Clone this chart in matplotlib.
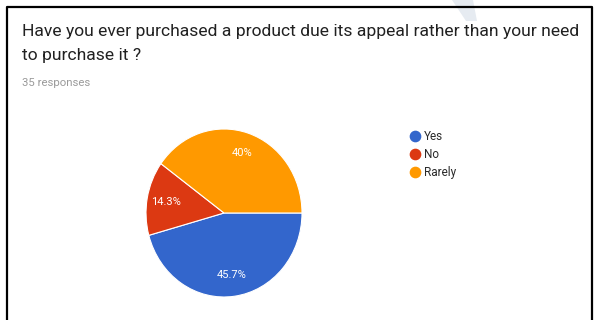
import matplotlib.pyplot as plt
from matplotlib.lines import Line2D
from matplotlib.patches import Polygon

plt.rcParams['font.family'] = ['Roboto', 'DejaVu Sans']

# survey data
title_lines = ["Have you ever purchased a product due its appeal rather than your need",
               "to purchase it ?"]
subtitle = "35 responses"
labels = ["Yes", "No", "Rarely"]
values = [16, 5, 14]
colors = ["#3366CC", "#DC3912", "#FF9900"]

W, H = 595, 320
fig = plt.figure(figsize=(W / 100, H / 100), dpi=100)

def fx(px):
    return px / W

def fy(py):
    return 1 - py / H

# faint watermark streak at top right
fig.patches.append(Polygon([(fx(452), fy(0)), (fx(473), fy(0)), (fx(477), fy(21)), (fx(466), fy(21))],
                           closed=True, transform=fig.transFigure, facecolor="#e6ebf1",
                           edgecolor="none", zorder=0))

# card border (left, top, right)
fig.lines.append(Line2D([fx(7), fx(7), fx(592), fx(592)], [fy(322), fy(7), fy(7), fy(322)],
                        transform=fig.transFigure, color="black", lw=1.6))

fig.text(fx(22), fy(36), title_lines[0], fontsize=12.6, color="#212121", va="baseline")
fig.text(fx(22), fy(60), title_lines[1], fontsize=12.6, color="#212121", va="baseline")
fig.text(fx(22), fy(86), subtitle, fontsize=8.2, color="#9a9a9a", va="baseline")

# pie is slightly stretched vertically in the screenshot
ax = fig.add_axes([fx(146), fy(297), fx(302) - fx(146), (297 - 129) / H])
wedges, texts, autotexts = ax.pie(values, colors=colors, startangle=0, counterclock=False,
                                  autopct=lambda p: "%.3g%%" % p, pctdistance=0.75,
                                  wedgeprops=dict(edgecolor="white", linewidth=0.8),
                                  textprops=dict(color="white", fontsize=8))
ax.set_aspect("auto")
ax.set_xlim(-1, 1)
ax.set_ylim(-1, 1)

handles = [Line2D([], [], marker="o", linestyle="none", markersize=7.4,
                  markerfacecolor=c, markeredgecolor=c) for c in colors]
fig.legend(handles, labels, loc="upper left", bbox_to_anchor=(fx(410), fy(130)),
           frameon=False, fontsize=8.5, labelspacing=0.43, handlelength=0.8,
           handletextpad=0.4, borderpad=0, borderaxespad=0, labelcolor="#2a2a2a")

fig.savefig("out.png", dpi=100, facecolor="white")
